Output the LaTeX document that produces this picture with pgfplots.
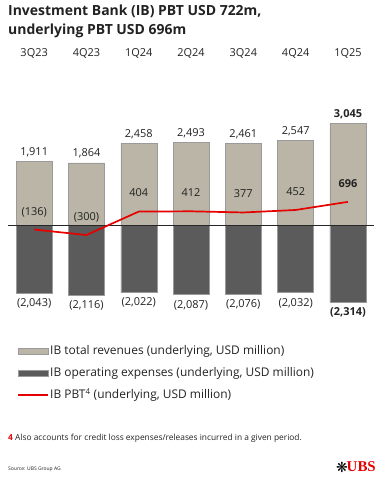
\documentclass[border=0pt]{standalone}
\usepackage{pgfplots}
\pgfplotsset{compat=1.18}
\usepackage{fontspec}
\setmainfont{Open Sans}
\newfontfamily\serifb{Liberation Serif}
\newfontfamily\dejavu{DejaVu Sans}
\definecolor{rev}{HTML}{BAB5A6}
\definecolor{expc}{HTML}{5B5B5B}
\definecolor{ubsred}{HTML}{E60000}
\definecolor{edge}{HTML}{9A9A9A}
\definecolor{txt}{HTML}{222222}
\begin{document}
\begin{tikzpicture}[x=1bp,y=1bp]
\path (0,0) rectangle (382,480);
\node[anchor=north west, align=left, font=\fontsize{14}{19}\selectfont\bfseries, inner sep=0, text=txt] at (8,475) {Investment Bank (IB) PBT USD 722m,\\underlying PBT USD 696m};
\begin{axis}[at={(8bp,168.4bp)}, anchor=south west, x=52.3bp, y=0.0333bp,
  xmin=-0.5, xmax=6.5, ymin=-2600, ymax=3200, axis lines=none, clip=false,
  scale only axis]
\addplot[ybar, bar width=36bp, bar shift=0pt, fill=rev, draw=edge, line width=0.5bp,
  point meta=explicit symbolic, nodes near coords,
  every node near coord/.append style={font=\fontsize{11}{13}\selectfont, text=txt, anchor=south, yshift=1bp}]
  coordinates {(0,1911)[1,911] (1,1864)[1,864] (2,2458)[2,458] (3,2493)[2,493] (4,2461)[2,461] (5,2547)[2,547] (6,3045)[\textbf{3,045}]};
\addplot[ybar, bar width=36bp, bar shift=0pt, fill=expc, draw=edge, line width=0.5bp,
  point meta=explicit symbolic, nodes near coords,
  every node near coord/.append style={font=\fontsize{11}{13}\selectfont, text=txt, anchor=north, yshift=-2bp}]
  coordinates {(0,-2043)[(2,043)] (1,-2116)[(2,116)] (2,-2022)[(2,022)] (3,-2087)[(2,087)] (4,-2076)[(2,076)] (5,-2032)[(2,032)] (6,-2314)[\textbf{(2,314)}]};
\draw[black!85, line width=0.8bp] (axis cs:-0.5,0) -- (axis cs:6.5,0);
\addplot[ubsred, line width=1.7bp, mark=none, sharp plot] coordinates {(0,-136) (1,-300) (2,404) (3,412) (4,377) (5,452) (6,696)};
\node[font=\fontsize{11}{13}\selectfont, text=txt] at (axis cs:0,5150) {3Q23};
\node[font=\fontsize{11}{13}\selectfont, text=txt] at (axis cs:1,5150) {4Q23};
\node[font=\fontsize{11}{13}\selectfont, text=txt] at (axis cs:2,5150) {1Q24};
\node[font=\fontsize{11}{13}\selectfont, text=txt] at (axis cs:3,5150) {2Q24};
\node[font=\fontsize{11}{13}\selectfont, text=txt] at (axis cs:4,5150) {3Q24};
\node[font=\fontsize{11}{13}\selectfont, text=txt] at (axis cs:5,5150) {4Q24};
\node[font=\fontsize{11}{13}\selectfont, text=txt] at (axis cs:6,5150) {1Q25};
\node[font=\fontsize{11}{13}\selectfont, text=txt] at (axis cs:0,390) {(136)};
\node[font=\fontsize{11}{13}\selectfont, text=txt] at (axis cs:1,240) {(300)};
\node[font=\fontsize{11}{13}\selectfont, text=txt] at (axis cs:2,960) {404};
\node[font=\fontsize{11}{13}\selectfont, text=txt] at (axis cs:3,990) {412};
\node[font=\fontsize{11}{13}\selectfont, text=txt] at (axis cs:4,930) {377};
\node[font=\fontsize{11}{13}\selectfont, text=txt] at (axis cs:5,990) {452};
\node[font=\fontsize{11}{13}\selectfont\bfseries, text=txt] at (axis cs:6,1230) {696};
\end{axis}
% legend
\draw[fill=rev, draw=edge, line width=0.5bp] (18,126) rectangle (48,132);
\draw[fill=expc, draw=edge, line width=0.5bp] (18,104) rectangle (48,110);
\draw[ubsred, line width=1.7bp] (18,85) -- (48,85);
\node[anchor=west, inner sep=0, font=\fontsize{12}{14}\selectfont, text=txt] at (50,129) {IB total revenues (underlying, USD million)};
\node[anchor=west, inner sep=0, font=\fontsize{12}{14}\selectfont, text=txt] at (50,107) {IB operating expenses (underlying, USD million)};
\node[anchor=west, inner sep=0, font=\fontsize{12}{14}\selectfont, text=txt] at (50,85) {IB PBT\textsuperscript{4} (underlying, USD million)};
\node[anchor=west, inner sep=0, font=\fontsize{8.4}{10}\selectfont, text=txt] at (8,42) {{\color{ubsred}\bfseries 4} Also accounts for credit loss expenses/releases incurred in a given period.};
\node[anchor=west, inner sep=0, font=\fontsize{5}{6}\selectfont, text=txt] at (8,11) {Source: UBS Group AG};
\node[anchor=east, inner sep=0, font=\fontsize{15}{16}\selectfont\serifb\bfseries, text=ubsred] at (376,13) {UBS};
\node[anchor=east, inner sep=0, font=\fontsize{14}{16}\selectfont\dejavu] at (348,13) {❋};
\end{tikzpicture}
\end{document}
